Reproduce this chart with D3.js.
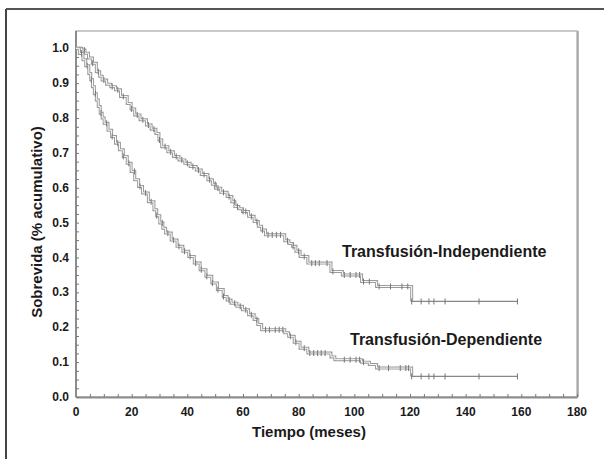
<html>
<head>
<meta charset="utf-8">
<title>Sobrevida</title>
<script src="https://d3js.org/d3.v7.min.js"></script>
<style>
body { margin:0; background:#fff; }
text { font-family: "Liberation Sans", Arial, sans-serif; font-weight:bold; fill:#1a1a1a; }
</style>
</head>
<body>
<div id="chart"></div>
<script>

// Transfusión-Independiente: [meses, sobrevida]
var indepTime = [0,2,3.2,4.5,5.9,7.3,8.5,9.4,11,12.5,14.2,16,18.4,19.8,21.1,23,25.3,27,28.7,29.8,30.8,33,35,37,39.1,41,43.2,45,47.4,49,50.1,52,54.3,56,57.1,58.5,59.8,62,64,65.5,66.7,68.1,75,76.5,77.8,79,80.5,83.3,91.6,95.7,102.6,108,120.6,158.6];
var indepSurv = [1.0,0.995,0.986,0.972,0.957,0.933,0.92,0.909,0.897,0.89,0.881,0.862,0.842,0.826,0.809,0.795,0.78,0.768,0.756,0.737,0.718,0.703,0.69,0.68,0.67,0.661,0.651,0.638,0.623,0.61,0.599,0.587,0.575,0.56,0.546,0.54,0.532,0.518,0.503,0.49,0.479,0.465,0.448,0.44,0.432,0.418,0.403,0.384,0.36,0.35,0.331,0.317,0.274,0.274];

// Transfusión-Dependiente
var depTime = [0,1.2,2.5,3.5,4.6,5.3,5.9,6.6,7.3,8,8.7,9.4,10.1,11.5,12.8,14.2,15.6,17,18.4,19.8,21.1,22.5,23.9,26,28,29,30.1,31.2,32.2,34.2,36.3,38.4,40.5,42.5,44.6,46.7,48.8,50.8,52.9,54.3,55.7,57.8,59.8,62,64,65.3,66.7,75,76.4,78.4,80.5,83.3,91.6,93,102.6,105.4,108,120.6,158.6];
var depSurv = [1.0,0.985,0.967,0.95,0.928,0.91,0.89,0.87,0.852,0.833,0.814,0.8,0.785,0.765,0.747,0.728,0.709,0.69,0.67,0.647,0.623,0.604,0.585,0.56,0.537,0.52,0.499,0.484,0.47,0.45,0.432,0.418,0.403,0.384,0.365,0.346,0.327,0.308,0.288,0.278,0.269,0.26,0.25,0.236,0.222,0.208,0.193,0.184,0.174,0.157,0.14,0.126,0.115,0.107,0.1,0.093,0.083,0.059,0.059];

// censored observations (meses)
var indepCens = [3,6,8,10,13,15,17,20,22,24,26,28,30,32,34,36,38,40,42,44,46,48,50,51,53,55,57,58,60,61,63,65,67,69,70.5,72,73.5,76,78,80,82,84.7,86,87.4,90.2,92.3,96.4,98.5,100.6,101.9,103.3,105.4,108.9,113,117.1,119.2,120.6,124,126.8,128.6,132.6,144.8,158.6];
var depCens = [2,4,5.5,7,9,11,13,15,17,19,21,23,25,27,29,31,33,35,37,39,41,43,45,47,49,51,53,55,57,59,61,63,65,68.1,69.5,71.6,73,74.3,77,79,82,84,85.4,86.8,88.1,89.5,96.4,98.5,100.6,101.9,103.3,108.9,112.3,116.5,118.5,119.5,120.6,124,126.8,128.6,132.6,144.8,158.6];

var xTicks = [0,20,40,60,80,100,120,140,160,180];
var yTicks = [0,0.1,0.2,0.3,0.4,0.5,0.6,0.7,0.8,0.9,1.0];

var W = 604, H = 459;
var svg = d3.select("#chart").append("svg").attr("width", W).attr("height", H);

// outer frame (top and left only)
svg.append("line").attr("x1",6).attr("x2",W).attr("y1",9).attr("y2",9).attr("stroke","#555").attr("stroke-width",2);
svg.append("line").attr("x1",6).attr("x2",6).attr("y1",9).attr("y2",H).attr("stroke","#444").attr("stroke-width",2);

var x = d3.scaleLinear().domain([0,180]).range([76,577]);
var y = d3.scaleLinear().domain([0,1]).range([397,48.3]);
var plotTop = 31;

// plot frame
svg.append("rect").attr("x",x(0)).attr("y",plotTop).attr("width",x(180)-x(0)).attr("height",y(0)-plotTop)
  .attr("fill","none").attr("stroke","#b8b8b8").attr("stroke-width",1.5);
svg.append("line").attr("x1",x(180)+1).attr("x2",x(180)+1).attr("y1",plotTop).attr("y2",y(0))
  .attr("stroke","#a0a0a0").attr("stroke-width",1.5);

// axes: inward minor ticks
var xAxis = d3.axisTop(x).tickValues(d3.range(0,181,5)).tickSize(3).tickSizeOuter(0).tickFormat("");
var gx = svg.append("g").attr("transform","translate(0,"+y(0)+")").call(xAxis);
var yAxis = d3.axisRight(y).tickValues(d3.range(0,41).map(function(i){return i*0.025;})).tickSize(3).tickSizeOuter(0).tickFormat("");
var gy = svg.append("g").attr("transform","translate("+x(0)+",0)").call(yAxis);
[gx,gy].forEach(function(g){
  g.select(".domain").attr("stroke","#8c8c8c").attr("stroke-width",2);
  g.selectAll(".tick line").attr("stroke","#777");
});
gy.select(".domain").attr("d","M0,"+y(0)+"V"+plotTop);

svg.selectAll(".xl").data(xTicks).enter().append("text")
  .attr("x",function(d){return x(d);}).attr("y",416).attr("text-anchor","middle")
  .attr("font-size",12).text(function(d){return d;});
svg.selectAll(".yl").data(yTicks).enter().append("text")
  .attr("x",69).attr("y",function(d){return y(d)+4;}).attr("text-anchor","end")
  .attr("font-size",12).text(function(d){return d.toFixed(1);});

svg.append("text").attr("x",309).attr("y",437).attr("text-anchor","middle").attr("font-size",15).text("Tiempo (meses)");
svg.append("text").attr("transform","translate(42,222) rotate(-90)").attr("text-anchor","middle").attr("font-size",15).text("Sobrevida (% acumulativo)");

function drawCurve(times, surv, cens) {
  var pts = times.map(function(t,i){return [t, surv[i]];});
  var line = d3.line().x(function(d){return x(d[0]);}).y(function(d){return y(d[1]);}).curve(d3.curveStepAfter);
  // body of the curve looks doubled, the tail after 120 months is a single line
  var body = pts.slice(0, pts.length - 1), tail = pts.slice(pts.length - 2);
  svg.append("path").attr("d",line(body)).attr("fill","none").attr("stroke","#9a9a9a").attr("stroke-width",3);
  svg.append("path").attr("d",line(body)).attr("fill","none").attr("stroke","#fff").attr("stroke-width",1);
  svg.append("path").attr("d",line(tail)).attr("fill","none").attr("stroke","#888").attr("stroke-width",1.3);
  var at = function(t){ var i = d3.bisectRight(times, t) - 1; return surv[Math.max(0,i)]; };
  svg.selectAll(null).data(cens).enter().append("line")
    .attr("x1",function(d){return x(d);}).attr("x2",function(d){return x(d);})
    .attr("y1",function(d){return y(at(d))-3;}).attr("y2",function(d){return y(at(d))+3;})
    .attr("stroke","#777").attr("stroke-width",1);
}
drawCurve(indepTime, indepSurv, indepCens);
drawCurve(depTime, depSurv, depCens);

svg.append("text").attr("x",342).attr("y",257).attr("font-size",16).text("Transfusión-Independiente");
svg.append("text").attr("x",350).attr("y",345).attr("font-size",16).text("Transfusión-Dependiente");

</script>
</body>
</html>
